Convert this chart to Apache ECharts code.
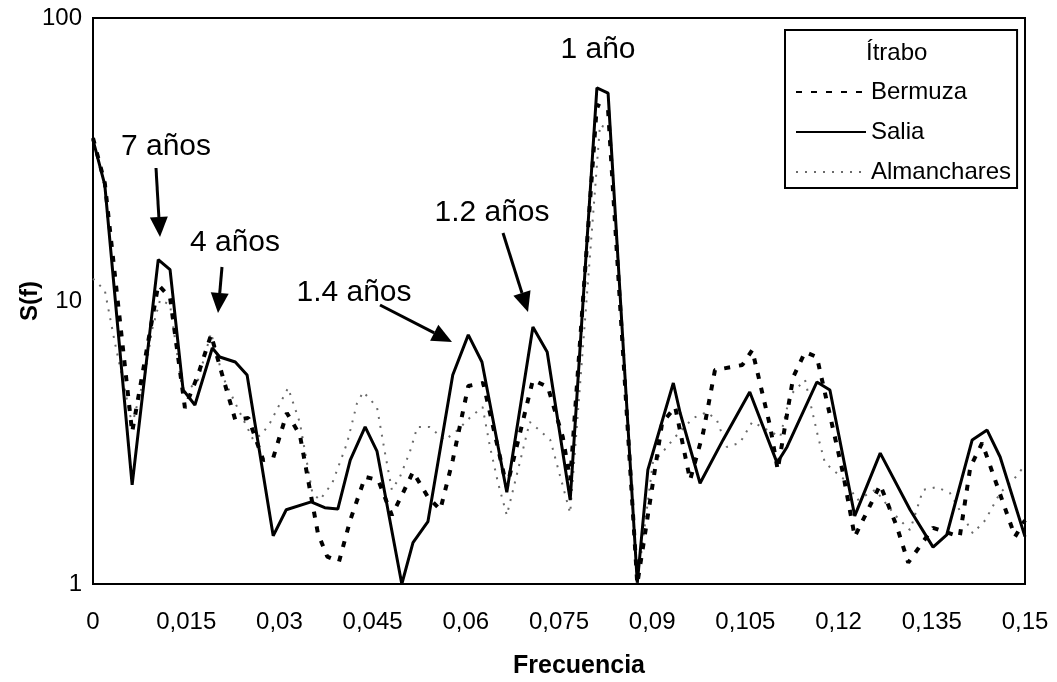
<!DOCTYPE html>
<html>
<head>
<meta charset="utf-8">
<script src="https://cdn.jsdelivr.net/npm/echarts@6/dist/echarts.min.js"></script>
<style>
  html, body { margin: 0; background: #fff; }
  #chart { width: 1057px; height: 682px; }
</style>
</head>
<body>
<div id="chart"></div>
<script>
// frequencies (x) and S(f) values
const saliaFrec = [0, 0.0019, 0.0063, 0.0105, 0.0124, 0.0145, 0.0164, 0.0192, 0.0204, 0.0229, 0.0248, 0.029, 0.0311, 0.0351, 0.0373, 0.0394, 0.0414, 0.0438, 0.0457, 0.0497, 0.0515, 0.0539, 0.0579, 0.0604, 0.0626, 0.0666, 0.0708, 0.0731, 0.0768, 0.0811, 0.0829, 0.0876, 0.0893, 0.0934, 0.0945, 0.0977, 0.1014, 0.1057, 0.1101, 0.1117, 0.1165, 0.1186, 0.1226, 0.1267, 0.1315, 0.1352, 0.1374, 0.1415, 0.1439, 0.146, 0.15];
const saliaVal = [37.1, 25.7, 2.24, 14.0, 12.9, 4.85, 4.29, 6.82, 6.34, 6.09, 5.48, 1.48, 1.83, 1.95, 1.86, 1.84, 2.74, 3.59, 2.95, 1.0, 1.40, 1.66, 5.48, 7.59, 6.09, 2.11, 8.09, 6.60, 1.98, 56.6, 54.3, 1.01, 2.53, 5.13, 4.02, 2.27, 3.23, 4.77, 2.68, 3.05, 5.17, 4.85, 1.74, 2.90, 1.83, 1.35, 1.49, 3.23, 3.50, 2.81, 1.47];

const bermuzaFrec = [0, 0.0019, 0.0063, 0.0105, 0.0124, 0.0148, 0.0169, 0.019, 0.0208, 0.0229, 0.025, 0.0274, 0.029, 0.0312, 0.0333, 0.0362, 0.0377, 0.0396, 0.0414, 0.0438, 0.0459, 0.0481, 0.0499, 0.0515, 0.0539, 0.0559, 0.0579, 0.0604, 0.0628, 0.0666, 0.0708, 0.0732, 0.0756, 0.0768, 0.0811, 0.0829, 0.0876, 0.0916, 0.0937, 0.0961, 0.0982, 0.1001, 0.1045, 0.1061, 0.109, 0.1102, 0.1127, 0.1146, 0.1165, 0.1207, 0.1226, 0.1267, 0.1294, 0.1312, 0.1352, 0.1395, 0.1412, 0.1431, 0.1473, 0.1484, 0.15];
const bermuzaVal = [37.7, 26.1, 3.44, 11.4, 10.3, 4.19, 5.48, 7.59, 5.48, 3.80, 3.86, 2.74, 2.79, 4.02, 3.36, 1.51, 1.25, 1.20, 1.68, 2.39, 2.33, 1.75, 2.10, 2.49, 2.03, 1.83, 2.74, 5.01, 5.13, 2.20, 5.26, 4.97, 3.31, 2.33, 49.3, 47.3, 1.0, 3.71, 4.22, 2.33, 3.42, 5.70, 5.94, 6.71, 3.59, 2.53, 5.39, 6.60, 6.34, 2.47, 1.47, 2.24, 1.59, 1.19, 1.58, 1.47, 2.59, 3.15, 1.72, 1.47, 1.68];

const almanFrec = [0, 0.0019, 0.0035, 0.0048, 0.0063, 0.0084, 0.0095, 0.0108, 0.0124, 0.0145, 0.0169, 0.019, 0.0209, 0.0232, 0.0258, 0.0272, 0.0285, 0.0314, 0.0333, 0.0353, 0.0365, 0.0385, 0.0409, 0.0425, 0.0435, 0.0457, 0.047, 0.0481, 0.0494, 0.051, 0.0522, 0.0542, 0.0566, 0.0587, 0.0606, 0.0627, 0.0639, 0.0652, 0.0666, 0.0684, 0.0703, 0.0736, 0.0768, 0.0816, 0.0832, 0.0876, 0.0901, 0.0917, 0.0937, 0.0966, 0.0988, 0.1004, 0.102, 0.1041, 0.1061, 0.1106, 0.1122, 0.1146, 0.1167, 0.1178, 0.121, 0.123, 0.1259, 0.1291, 0.1315, 0.1336, 0.1358, 0.1379, 0.1416, 0.1436, 0.146, 0.1481, 0.15];
const almanVal = [12.0, 10.9, 7.16, 5.26, 3.65, 5.57, 7.90, 10.1, 9.68, 4.65, 5.26, 7.71, 5.39, 4.22, 3.23, 3.39, 3.71, 4.93, 3.71, 2.10, 1.98, 2.27, 3.15, 4.36, 4.77, 4.22, 2.90, 2.15, 2.39, 2.93, 3.59, 3.59, 3.22, 3.50, 3.86, 4.22, 3.05, 2.27, 1.75, 2.53, 3.74, 3.23, 1.78, 41.9, 40.2, 1.0, 2.68, 2.93, 3.31, 3.86, 4.05, 3.80, 3.05, 3.15, 3.74, 3.31, 4.65, 5.26, 3.31, 2.68, 2.33, 1.98, 2.15, 1.75, 1.55, 2.15, 2.20, 2.10, 1.51, 1.68, 2.10, 2.33, 2.63];

const legendNames = ['Bermuza', 'Salia', 'Almanchares'];

// annotation texts and arrows (pixel positions)
const notes = [
  { text: '7 años', x: 166, y: 147, from: [156, 168], to: [160, 237] },
  { text: '4 años', x: 235, y: 243, from: [222, 267], to: [218, 313] },
  { text: '1.4 años', x: 354, y: 293, from: [380, 305], to: [452, 342] },
  { text: '1.2 años', x: 492, y: 213, from: [503, 233], to: [528, 312] },
  { text: '1 año', x: 598, y: 50 }
];

const zip = (f, v) => f.map((x, i) => [x, v[i]]);

const arrow = (a, b) => {
  const dx = b[0] - a[0], dy = b[1] - a[1];
  const len = Math.sqrt(dx * dx + dy * dy);
  const ux = dx / len, uy = dy / len;
  const hl = 20, hw = 9;
  const bx = b[0] - ux * hl, by = b[1] - uy * hl;
  return [
    { type: 'line', shape: { x1: a[0], y1: a[1], x2: bx, y2: by }, style: { stroke: '#000', lineWidth: 3 } },
    { type: 'polygon', shape: { points: [b, [bx - uy * hw, by + ux * hw], [bx + uy * hw, by - ux * hw]] }, style: { fill: '#000' } }
  ];
};

let graphics = [
  { type: 'text', left: 898 - 32, top: 41, style: { text: 'Ítrabo', fontSize: 24, fill: '#000', fontFamily: 'Liberation Sans' } }
];
notes.forEach(n => {
  graphics.push({ type: 'text', x: n.x, y: n.y, style: { text: n.text, fontSize: 30, fill: '#000', align: 'center', verticalAlign: 'middle', fontFamily: 'Liberation Sans' } });
  if (n.from) graphics = graphics.concat(arrow(n.from, n.to));
});

const chart = echarts.init(document.getElementById('chart'));
const option = {
  animation: false,
  backgroundColor: '#fff',
  textStyle: { fontFamily: 'Liberation Sans, Arial, sans-serif' },
  grid: { left: 93, right: 32, top: 18, bottom: 98, show: true, borderColor: '#000', borderWidth: 2, outerBoundsMode: 'none' },
  legend: {
    data: legendNames,
    orient: 'vertical',
    left: 785,
    top: 30,
    padding: [50, 6, 4, 10],
    itemGap: 16,
    itemWidth: 70,
    itemHeight: 24,
    borderColor: '#000',
    borderWidth: 2,
    selectedMode: false,
    itemStyle: { opacity: 0 },
    textStyle: { fontSize: 24, color: '#000' }
  },
  xAxis: {
    type: 'value',
    min: 0,
    max: 0.15,
    interval: 0.015,
    name: 'Frecuencia',
    nameLocation: 'middle',
    nameGap: 70,
    nameMoveOverlap: false,
    nameTextStyle: { fontSize: 25, fontWeight: 'bold', color: '#000', padding: [0, 0, 0, 40] },
    axisLine: { lineStyle: { color: '#000', width: 2 } },
    axisTick: { show: false },
    splitLine: { show: false },
    axisLabel: {
      fontSize: 24, color: '#000', margin: 26,
      formatter: v => String(Number(v.toFixed(3))).replace('.', ',')
    }
  },
  yAxis: {
    type: 'log',
    logBase: 10,
    min: 1,
    max: 100,
    name: 'S(f)',
    nameLocation: 'middle',
    nameRotate: 90,
    nameGap: 51,
    nameMoveOverlap: false,
    nameTextStyle: { fontSize: 24, fontWeight: 'bold', color: '#000' },
    axisLine: { lineStyle: { color: '#000', width: 2 } },
    axisTick: { show: false },
    splitLine: { show: false },
    axisLabel: { fontSize: 24, color: '#000', margin: 11 }
  },
  graphic: graphics,
  series: [
    {
      name: 'Almanchares', type: 'line', data: zip(almanFrec, almanVal),
      symbol: 'none', z: 1,
      itemStyle: { color: '#6a6a6a' },
      lineStyle: { color: '#6a6a6a', width: 2, type: [2, 7] }
    },
    {
      name: 'Bermuza', type: 'line', data: zip(bermuzaFrec, bermuzaVal),
      symbol: 'none', z: 2,
      itemStyle: { color: '#000' },
      lineStyle: { color: '#000', width: 4, type: [6, 9] }
    },
    {
      name: 'Salia', type: 'line', data: zip(saliaFrec, saliaVal),
      symbol: 'none', z: 3,
      itemStyle: { color: '#000' },
      lineStyle: { color: '#000', width: 3 }
    }
  ]
};
chart.setOption(option);
</script>
</body>
</html>
